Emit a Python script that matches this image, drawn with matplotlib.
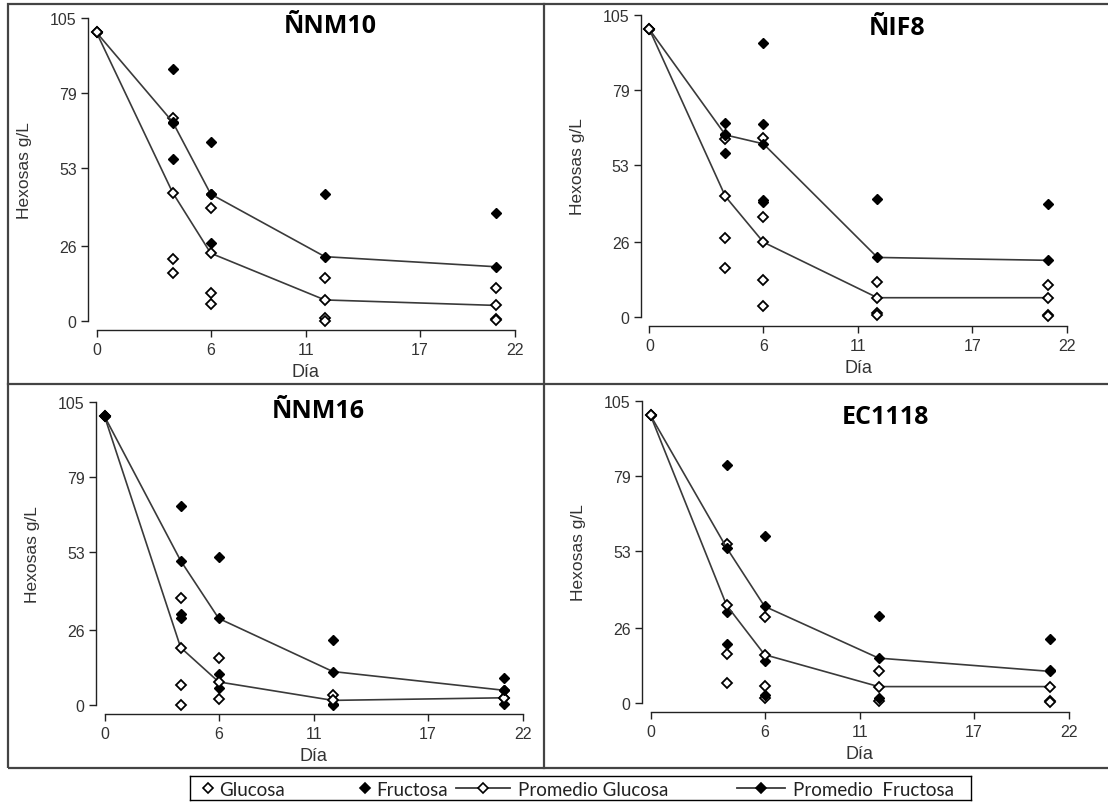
import matplotlib
matplotlib.use("Agg")
import matplotlib.pyplot as plt
from matplotlib.lines import Line2D
from matplotlib.patches import Rectangle

plt.rcParams['font.family'] = ['Liberation Sans', 'DejaVu Sans']

# datos
dias = [0, 4, 6, 12, 21]
x_ticks = [0, 6, 11, 17, 22]
y_ticks = [0, 26, 53, 79, 105]

nm10_glucosa = [[100], [70.3, 21.4, 16.8], [39.0, 9.8, 5.8], [14.9, 1.2, 0.0], [11.4, 0.8, 0.3]]
nm10_fructosa = [[100], [87.3, 68.6, 56.1], [62.1, 44.0, 26.9], [44.0], [37.6]]
nm10_prom_glu = [100, 44.5, 23.5, 7.3, 5.4]
nm10_prom_fru = [100, 69.0, 44.0, 22.3, 18.8]

if8_glucosa = [[100], [61.9, 27.4, 17.2], [62.2, 34.7, 12.7, 3.7], [12.2, 1.5, 0.8], [11.2, 0.8, 0.3]]
if8_fructosa = [[100], [67.5, 63.7, 57.0], [95.3, 67.0, 40.5, 39.9], [40.9], [39.4]]
if8_prom_glu = [100, 41.9, 26.0, 6.7, 6.7]
if8_prom_fru = [100, 63.3, 60.2, 20.7, 19.7]

nm16_glucosa = [[100], [37.0, 6.8, 0.0], [16.4, 2.0], [3.5], [2.5]]
nm16_fructosa = [[100], [69.1, 31.5, 30.0], [51.2, 10.9, 5.8], [22.5, 0.5, 0.0], [9.3, 5.1, 0.5]]
nm16_prom_glu = [100, 19.9, 8.0, 1.6, 2.5]
nm16_prom_fru = [100, 50.0, 30.0, 11.6, 5.1]

ec_glucosa = [[100], [55.4, 17.2, 6.8], [30.0, 5.8, 1.7], [11.2, 0.6], [0.8, 0.2]]
ec_fructosa = [[100], [82.6, 31.5, 20.5], [58.0, 14.7, 2.9], [30.4, 1.7], [22.2, 11.5]]
ec_prom_glu = [100, 34.0, 16.8, 5.7, 5.7]
ec_prom_fru = [100, 54.0, 33.6, 15.6, 11.0]

paneles = [
    ("ÑNM10", nm10_glucosa, nm10_fructosa, nm10_prom_glu, nm10_prom_fru,
     [0.0871, 0.5990, 0.3779, 0.3773], (0.558, 0.954), False),
    ("ÑIF8", if8_glucosa, if8_fructosa, if8_prom_glu, if8_prom_fru,
     [0.5861, 0.6040, 0.3773, 0.3761], (0.593, 0.937), False),
    ("ÑNM16", nm16_glucosa, nm16_fructosa, nm16_prom_glu, nm16_prom_fru,
     [0.0944, 0.1208, 0.3776, 0.3773], (0.511, 0.950), True),
    ("EC1118", ec_glucosa, ec_fructosa, ec_prom_glu, ec_prom_fru,
     [0.5871, 0.1233, 0.3775, 0.3761], (0.561, 0.927), False),
]

txt = '#333333'
linea = '#3a3a3a'
ms = 5.6


def expandir(valores):
    xs, ys = [], []
    for d, vals in zip(dias, valores):
        for v in vals:
            xs.append(d)
            ys.append(v)
    return xs, ys


fig = plt.figure(figsize=(11.08, 8.03), dpi=100)

for nombre, glu, fru, pglu, pfru, pos, tpos, fru_arriba in paneles:
    ax = fig.add_axes(pos)
    ax.set_xlim(0, 22)
    ax.set_ylim(0, 105)

    gx, gy = expandir(glu)
    fx, fy = expandir(fru)
    ax.plot(gx, gy, 'D', ls='none', ms=ms, mfc='white', mec='black', mew=1.3,
            clip_on=False, zorder=3)
    ax.plot(fx, fy, 'D', ls='none', ms=ms, mfc='black', mec='black',
            clip_on=False, zorder=3)

    zg, zf = (4, 5) if fru_arriba else (5, 4)
    ax.plot(dias, pfru, '-D', color=linea, lw=1.2, ms=ms, mfc='black', mec='black',
            clip_on=False, zorder=zf)
    ax.plot(dias, pglu, '-D', color=linea, lw=1.2, ms=ms, mfc='white', mec='black',
            mew=1.3, clip_on=False, zorder=zg)

    ax.text(tpos[0], tpos[1], nombre, transform=ax.transAxes, ha='center', va='baseline',
            fontsize=18, fontweight='bold', family=['Open Sans', 'DejaVu Sans'],
            color='black')

    for s in ['top', 'right']:
        ax.spines[s].set_visible(False)
    ax.spines['left'].set_position(('outward', 6.3))
    ax.spines['bottom'].set_position(('outward', 6.8))
    ax.spines['left'].set_bounds(0, 105)
    ax.spines['bottom'].set_bounds(0, 22)
    for s in ['left', 'bottom']:
        ax.spines[s].set_color('#222222')
        ax.spines[s].set_linewidth(1.0)

    ax.set_xticks(x_ticks)
    ax.set_yticks(y_ticks)
    ax.tick_params(length=5, width=1.0, colors='#222222', labelcolor=txt,
                   labelsize=11.5, pad=3)

    ax.set_xlabel("Día", fontsize=13, color=txt)
    ax.set_ylabel("Hexosas g/L", fontsize=12.5, color=txt)
    ax.xaxis.set_label_coords(0.5, -0.14)
    ax.yaxis.set_label_coords(-0.155, 0.5)

# marcos de los paneles
W, H = 1108, 803
marco = Rectangle((8 / W, 1 - 769 / H), (1112 - 8) / W, (769 - 5) / H,
                  transform=fig.transFigure, fill=False, ec='#444444', lw=1.6)
fig.add_artist(marco)
fig.add_artist(Line2D([544 / W, 544 / W], [1 - 5 / H, 1 - 769 / H],
                      transform=fig.transFigure, color='#444444', lw=1.6))
fig.add_artist(Line2D([8 / W, 1], [1 - 385 / H, 1 - 385 / H],
                      transform=fig.transFigure, color='#444444', lw=1.6))

# leyenda (caja dibujada a mano)
ley_x0, ley_x1 = 190, 971
ley = fig.add_axes([ley_x0 / W, 1 - 801 / H, (ley_x1 - ley_x0) / W, 24 / H])
ley.set_xlim(ley_x0, ley_x1)
ley.set_ylim(0, 1)
ley.set_xticks([])
ley.set_yticks([])
for s in ley.spines.values():
    s.set_linewidth(1.0)
    s.set_color('black')

etiquetas = ["Glucosa", "Fructosa", "Promedio Glucosa", "Promedio  Fructosa"]
texto_x = [219, 376, 518, 793]
clave_linea = [None, None, (456, 510), (737, 785)]
clave_marca = [208, 365, 483, 761]
relleno = ['white', 'black', 'white', 'black']
for etq, tx, cl, cm, rf in zip(etiquetas, texto_x, clave_linea, clave_marca, relleno):
    if cl is not None:
        ley.add_line(Line2D(cl, [0.5, 0.5], color=linea, lw=1.3))
    ley.add_line(Line2D([cm], [0.5], marker='D', ms=5, mfc=rf, mec='black', mew=1.2))
    ley.text(tx, 0.45, etq, ha='left', va='center', fontsize=13.5,
             family=['Lato', 'DejaVu Sans'], color='#222222')

fig.savefig("out.png", dpi=100)
